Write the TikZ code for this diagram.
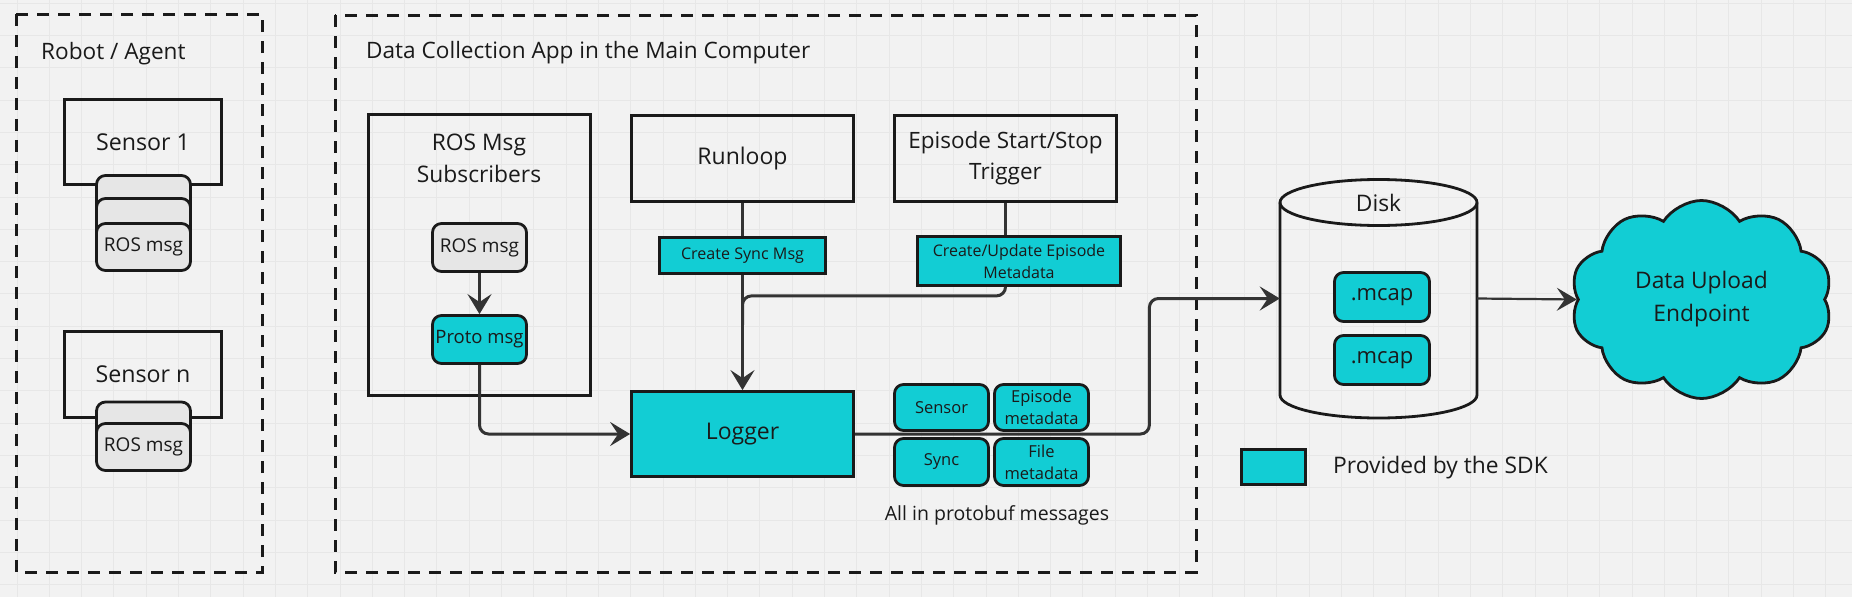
\documentclass[tikz,border=0pt]{standalone}
\usepackage{fontspec}
\setmainfont{Open Sans}
\usetikzlibrary{arrows.meta,shapes.symbols,calc}
\definecolor{tealc}{HTML}{12CDD4}
\definecolor{bgc}{HTML}{F2F2F2}
\definecolor{gridc}{HTML}{E7E7E7}
\definecolor{ink}{HTML}{1A1A1A}
\definecolor{wire}{HTML}{333333}
\definecolor{grayc}{HTML}{E6E6E6}
\begin{document}
\begin{tikzpicture}[x=1pt,y=-1pt,
  tbig/.style={font=\fontsize{22.8}{32}\selectfont, text=ink},
  tmid/.style={font=\fontsize{22.6}{28}\selectfont, text=ink},
  tsm/.style={font=\fontsize{16.5}{22}\selectfont, text=ink},
  box/.style={draw=ink, line width=2.8pt, inner sep=0pt, align=center, text=ink},
  tealbox/.style={box, fill=tealc},
  rbox/.style={box, rounded corners=9pt},
  gbox/.style={rbox, fill=grayc, minimum width=94pt, minimum height=47pt, font=\fontsize{19}{22}\selectfont},
  tbox/.style={rbox, fill=tealc},
  conn/.style={draw=wire, line width=3pt},
  arr/.style={conn, -{Stealth[length=20pt,width=24pt,inset=8pt]}},
  dashbox/.style={draw=ink, line width=3pt, dash pattern=on 12pt off 9pt},
  gridline/.style={draw=gridc, line width=1pt}
]
% background and grid
\fill[bgc] (0,0) rectangle (1852,597);
\useasboundingbox (0,0) rectangle (1852,597);
\foreach \i in {0,...,57} { \draw[gridline] (17+32.3*\i,0) -- (17+32.3*\i,597); }
\foreach \j in {0,...,18} { \draw[gridline] (0,3.2+32.3*\j) -- (1852,3.2+32.3*\j); }

% frames
\draw[dashbox] (16,14) rectangle (262,572);
\draw[dashbox] (335,15) rectangle (1196,572);
\node[tmid, anchor=west, inner sep=0pt] (robott) at (41,54) {Robot / Agent};
\node[tmid, anchor=west, inner sep=0pt] (appt) at (366,53) {Data Collection App in the Main Computer};

% sensors
\node[box, font=\fontsize{23.2}{28}\selectfont, minimum width=157pt, minimum height=85pt] (s1) at (143,142.3) {Sensor 1};
\node[gbox] (s1b) at (143.5,199) {};
\node[gbox] (s1m) at (143.5,222) {};
\node[gbox] (s1f) at (143.5,247) {ROS msg};
\node[box, font=\fontsize{23.2}{28}\selectfont, minimum width=157pt, minimum height=86pt] (sn) at (143,374.5) {Sensor n};
\node[gbox] (snb) at (143.5,425.5) {};
\node[gbox] (snf) at (143.5,447) {ROS msg};

% subscribers
\node[box, minimum width=222pt, minimum height=281pt] (subs) at (479.5,255) {};
\node[tbig, align=center, inner sep=0pt] (subst) at (479,158.5) {ROS Msg\\Subscribers};
\node[gbox, minimum height=48pt] (rosmsg) at (479.5,247.5) {ROS msg};
\node[tbox, minimum width=94pt, minimum height=48pt, font=\fontsize{18.5}{22}\selectfont] (proto) at (479.5,339.5) {Proto msg};
\draw[arr] (rosmsg) -- (proto);

% runloop and trigger
\node[box, font=\fontsize{23}{28}\selectfont, minimum width=222pt, minimum height=86pt] (run) at (742.5,158.5) {Runloop};
\node[box, minimum width=222pt, minimum height=86pt, font=\fontsize{22.5}{31}\selectfont] (epi) at (1005.5,158.5) {Episode Start/Stop\\Trigger};
\node[tealbox, minimum width=166pt, minimum height=36pt, font=\fontsize{16.1}{20}\selectfont] (syncmsg) at (742.5,255.5) {Create Sync Msg};
\node[tealbox, minimum width=203pt, minimum height=49pt, font=\fontsize{16}{22}\selectfont] (cu) at (1019,261) {Create/Update Episode\\Metadata};
\node[tealbox, minimum width=222pt, minimum height=85pt, font=\fontsize{23}{28}\selectfont] (logger) at (742.5,434) {Logger};

\draw[conn] (run) -- (syncmsg);
\draw[conn] (epi.south) -- (epi.south |- cu.north);
\draw[arr] (syncmsg) -- (logger);
\draw[conn, rounded corners=9pt] (epi.south |- cu.south) -- ++(0,9) -| ([yshift=-50pt]syncmsg.south);

% disk
\node[minimum width=197pt, minimum height=239pt, inner sep=0pt] (disk) at (1378.5,298.5) {};
\draw[box] (1280,202.5) -- (1280,395) arc[start angle=180, end angle=360, x radius=98.5pt, y radius=23pt] -- (1477,202.5);
\draw[box] (1378.5,202.5) ellipse [x radius=98.5pt, y radius=23pt];
\node[tbig, inner sep=0pt] (diskt) at (1378.5,203) {Disk};
\node[tbox, minimum width=95pt, minimum height=49pt, font=\fontsize{22}{24}\selectfont] (mcap1) at (1382,297) {.mcap};
\node[tbox, minimum width=95pt, minimum height=49pt, font=\fontsize{22}{24}\selectfont] (mcap2) at (1382,360) {.mcap};

% connectors to logger and disk
\draw[arr, rounded corners=9pt] (logger.east) -- ++(294.5,0) |- (disk.west);
\draw[arr, rounded corners=9pt] (proto.south) |- (logger.west);

% message blocks
\node[tbox, tsm, minimum width=94pt, minimum height=46pt] (msens) at (941.5,407.5) {Sensor};
\node[tbox, tsm, minimum width=94pt, minimum height=46pt] (mepi) at (1041.5,407.5) {Episode\\metadata};
\node[tbox, tsm, minimum width=94pt, minimum height=47pt] (msync) at (941.5,462) {Sync};
\node[tbox, tsm, minimum width=94pt, minimum height=47pt] (mfile) at (1041.5,462) {File\\metadata};
\node[font=\fontsize{19.5}{24}\selectfont, text=ink, inner sep=0pt] (allt) at (997,515) {All in protobuf messages};

% cloud
\node[cloud, cloud puffs=10, cloud puff arc=115, aspect=1.35, draw=ink, fill=tealc, line width=2.8pt,
      minimum width=262pt, minimum height=198pt, inner sep=0pt, align=center,
      font=\fontsize{22.8}{33}\selectfont, text=ink] (cloud) at (1701.5,299.5) {Data Upload\\Endpoint};
\draw[draw=wire, line width=2.2pt, -{Stealth[length=20pt,width=23pt,inset=8pt]}] (disk.east) -- (cloud.west);

% legend
\node[tealbox, minimum width=64pt, minimum height=35pt] (leg) at (1273.5,467) {};
\node[tbig, anchor=west, inner sep=0pt] (legt) at (1333,468) {Provided by the SDK};
\end{tikzpicture}
\end{document}
